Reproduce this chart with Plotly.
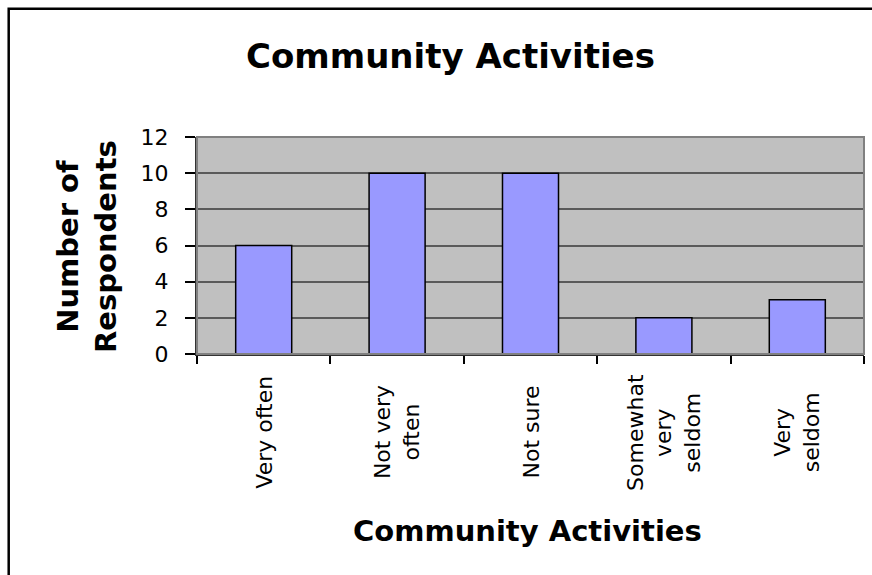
import plotly.graph_objects as go

categories = ["Very often", "Not very often", "Not sure", "Somewhat very seldom", "Very seldom"]
tick_labels = ["Very often", "Not very<br>often", "Not sure", "Somewhat<br>very<br>seldom", "Very<br>seldom"]
values = [6, 10, 10, 2, 3]
y_ticks = [0, 2, 4, 6, 8, 10, 12]

title_text = "Community Activities"
x_title = "Community Activities"
y_title = "Number of<br>Respondents"

FONT = "DejaVu Sans"
L, R, T, B = 197, 8, 137, 221
W, H = 872, 575
pw, ph = W - L - R, H - T - B

def px_x(p):
    return (p - L) / pw

def px_y(p):
    return (H - B - p) / ph

fig = go.Figure()
fig.add_trace(go.Bar(
    x=categories, y=values, width=0.42,
    marker=dict(color="#9999FF", line=dict(color="black", width=1.5)),
    hoverinfo="x+y",
))

annotations = []
for cat, lab in zip(categories, tick_labels):
    annotations.append(dict(
        x=cat, xref="x", y=px_y(432), yref="paper", text=lab, textangle=-90,
        showarrow=False, xanchor="center", yanchor="middle", align="center",
        font=dict(family=FONT, size=22, color="black"),
    ))
annotations.append(dict(
    x=px_x(450), xref="paper", y=px_y(56), yref="paper", text=f"<b>{title_text}</b>",
    showarrow=False, xanchor="center", yanchor="middle",
    font=dict(family=FONT, size=34, color="black"),
))
annotations.append(dict(
    x=px_x(527), xref="paper", y=px_y(531), yref="paper", text=f"<b>{x_title}</b>",
    showarrow=False, xanchor="center", yanchor="middle",
    font=dict(family=FONT, size=29, color="black"),
))
annotations.append(dict(
    x=px_x(87), xref="paper", y=px_y(247), yref="paper", text=f"<b>{y_title}</b>",
    showarrow=False, xanchor="center", yanchor="middle", textangle=-90, align="center",
    font=dict(family=FONT, size=29, color="black"),
))

shapes = [
    dict(type="rect", xref="paper", yref="paper", x0=0, x1=1, y0=0, y1=1,
         line=dict(color="#808080", width=2), layer="above"),
    dict(type="rect", xref="paper", yref="paper",
         x0=px_x(8.7), x1=px_x(W + 20), y0=px_y(H + 20), y1=px_y(8.7),
         line=dict(color="black", width=2.5), layer="above"),
]

fig.update_layout(
    width=W, height=H,
    margin=dict(l=L, r=R, t=T, b=B),
    paper_bgcolor="white", plot_bgcolor="#C0C0C0",
    showlegend=False, bargap=0.58,
    annotations=annotations, shapes=shapes,
    font=dict(family=FONT, size=22, color="black"),
)
fig.update_xaxes(
    type="category", showticklabels=False, tickson="boundaries",
    ticks="outside", ticklen=8, tickwidth=1.5, tickcolor="black",
    showline=True, linecolor="#333333", linewidth=2, showgrid=False,
    range=[-0.5, 4.5],
)
fig.update_yaxes(
    range=[0, 12], tickvals=y_ticks, ticktext=[str(v) for v in y_ticks],
    ticks="outside", ticklen=10, tickwidth=1.5, tickcolor="black",
    showline=True, linecolor="#333333", linewidth=2,
    showgrid=True, gridcolor="#5a5a5a", gridwidth=1.5, zeroline=False,
    tickfont=dict(family=FONT, size=22, color="black"), ticklabelstandoff=12,
)

fig.write_html("out.html", config={"displayModeBar": False},
               post_script="document.body.style.margin='0';")
